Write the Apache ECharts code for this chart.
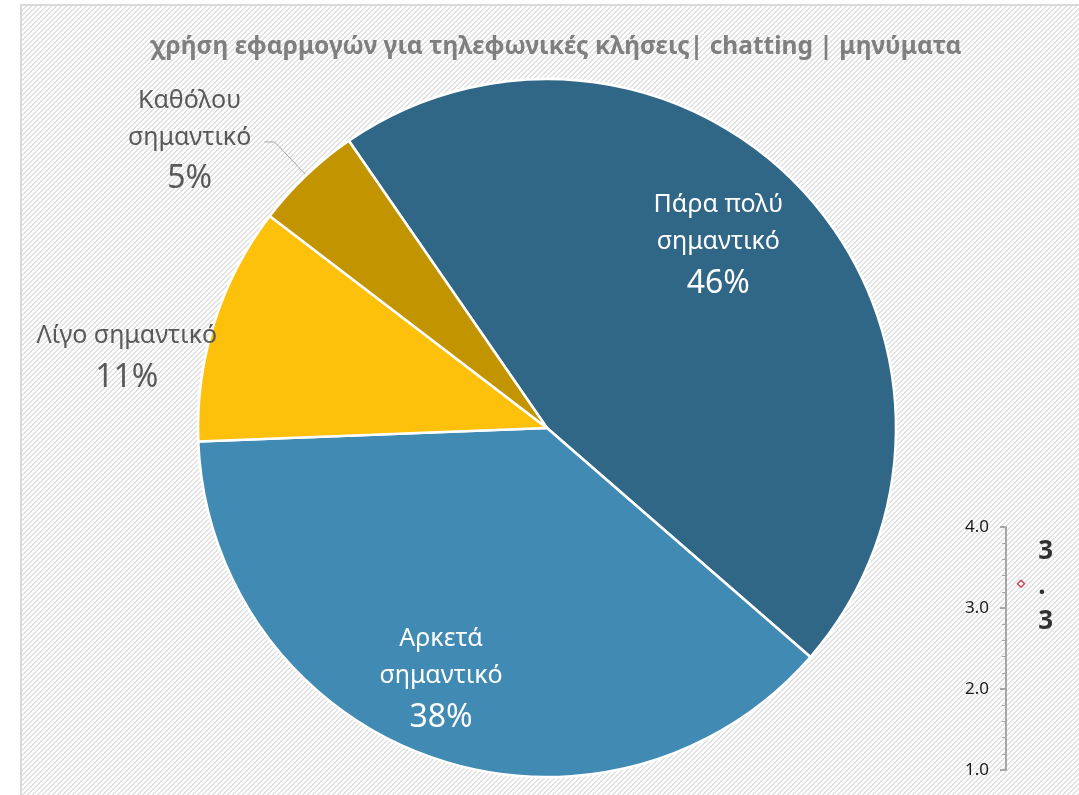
<!DOCTYPE html>
<html>
<head>
<meta charset="utf-8">
<title>χρήση εφαρμογών</title>
<script src="https://cdn.jsdelivr.net/npm/echarts@6/dist/echarts.min.js"></script>
<style>
  html, body { margin: 0; padding: 0; background: #fff; }
  #main { width: 1079px; height: 795px; }
</style>
</head>
<body>
<div id="main"></div>
<script>
// pie data (clockwise from the first slice)
var categories = ['Πάρα πολύ σημαντικό', 'Αρκετά σημαντικό', 'Λίγο σημαντικό', 'Καθόλου σημαντικό'];
var percents = [46, 38, 11, 5];
var sliceColors = ['#316786', '#418ab3', '#fec10b', '#c19400'];

// the small leftover axis in the corner
var miniTicks = [1, 4, 1];   // min, max, interval
var miniPoint = [3.3];

var titleText = 'χρήση εφαρμογών για τηλεφωνικές κλήσεις| chatting | μηνύματα';

// hatched background tile
function hatch() {
    var n = 5;
    var c = document.createElement('canvas');
    c.width = n; c.height = n;
    var g = c.getContext('2d');
    g.fillStyle = '#ffffff';
    g.fillRect(0, 0, n, n);
    g.fillStyle = '#e1e1e1';
    for (var x = 0; x < n; x++) {
        for (var y = 0; y < n; y++) {
            if ((x + y) % n < 2) g.fillRect(x, y, 1, 1);
        }
    }
    return c;
}

function splitName(name, i) {
    if (i == 2) return ['{n|' + name + '}'];
    var k = name.lastIndexOf(' ');
    return ['{n|' + name.slice(0, k) + '}', '{n|' + name.slice(k + 1) + '}'];
}

// label placement per slice
var labelCfg = [
    { position: 'inside', offset: [39, -63], color: '#fff' },
    { position: 'inside', offset: [-47, 85], color: '#fff' },
    { position: 'inside', offset: [-251, -15], color: '#595959' },
    { position: 'outside', color: '#595959' }
];

var pieData = categories.map(function (c, i) {
    return {
        name: c,
        value: percents[i],
        itemStyle: { color: sliceColors[i] },
        label: labelCfg[i],
        labelLine: { show: i == 3 }
    };
});

var myChart = echarts.init(document.getElementById('main'));
myChart.setOption({
    animation: false,
    graphic: [{
        type: 'rect',
        left: 20, top: 4,
        shape: { width: 1080, height: 800 },
        style: { fill: { image: hatch(), repeat: 'repeat' }, stroke: '#d9d9d9', lineWidth: 2 },
        z: -10, silent: true
    }],
    title: {
        text: titleText,
        left: 551,
        top: 30,
        textAlign: 'center',
        textStyle: { fontFamily: 'Noto Sans', fontSize: 24.5, fontWeight: 'bold', color: '#7f7f7f' }
    },
    grid: { left: 1006, top: 527, width: 60, bottom: 25 },
    xAxis: { type: 'value', min: 0, max: 4, show: false },
    yAxis: {
        type: 'value',
        min: miniTicks[0], max: miniTicks[1], interval: miniTicks[2],
        axisLine: { show: true, lineStyle: { color: '#a6a6a6', width: 2 } },
        axisTick: { show: true, length: 6, lineStyle: { color: '#a6a6a6', width: 2 } },
        minorTick: { show: true, splitNumber: 5, length: 4, lineStyle: { color: '#a6a6a6' } },
        splitLine: { show: false },
        axisLabel: {
            margin: 17, fontFamily: 'Noto Sans', fontSize: 17, color: '#1a1a1a',
            formatter: function (v) { return v.toFixed(1); }
        }
    },
    series: [{
        type: 'pie',
        center: [547, 428],
        radius: 349,
        startAngle: 124.6,
        clockwise: true,
        avoidLabelOverlap: false,
        itemStyle: { borderColor: '#fff', borderWidth: 2.5 },
        label: {
            fontFamily: 'Noto Sans',
            formatter: function (p) {
                return splitName(p.name, p.dataIndex).concat(['{p|' + p.value + '%}']).join('\n');
            },
            rich: {
                n: { fontFamily: 'Noto Sans', fontSize: 25, lineHeight: 37, width: 140, align: 'center' },
                p: { fontFamily: 'Noto Sans', fontSize: 32, lineHeight: 46, width: 140, align: 'center' }
            }
        },
        labelLine: { length: 46, length2: 10, lineStyle: { color: '#a6a6a6', width: 1 } },
        data: pieData
    }, {
        type: 'scatter',
        data: [[1, miniPoint[0]]],
        symbol: 'diamond',
        symbolSize: 7,
        itemStyle: { color: '#fff', borderColor: '#c0143c', borderWidth: 1.5 },
        label: {
            show: true, position: 'right', distance: 13, offset: [0, 3],
            fontFamily: 'Noto Sans', fontSize: 26, fontWeight: 'bold', color: '#000', lineHeight: 35,
            formatter: function (p) { return p.value[1].toFixed(1).split('').join('\n'); }
        }
    }]
});
</script>
</body>
</html>
